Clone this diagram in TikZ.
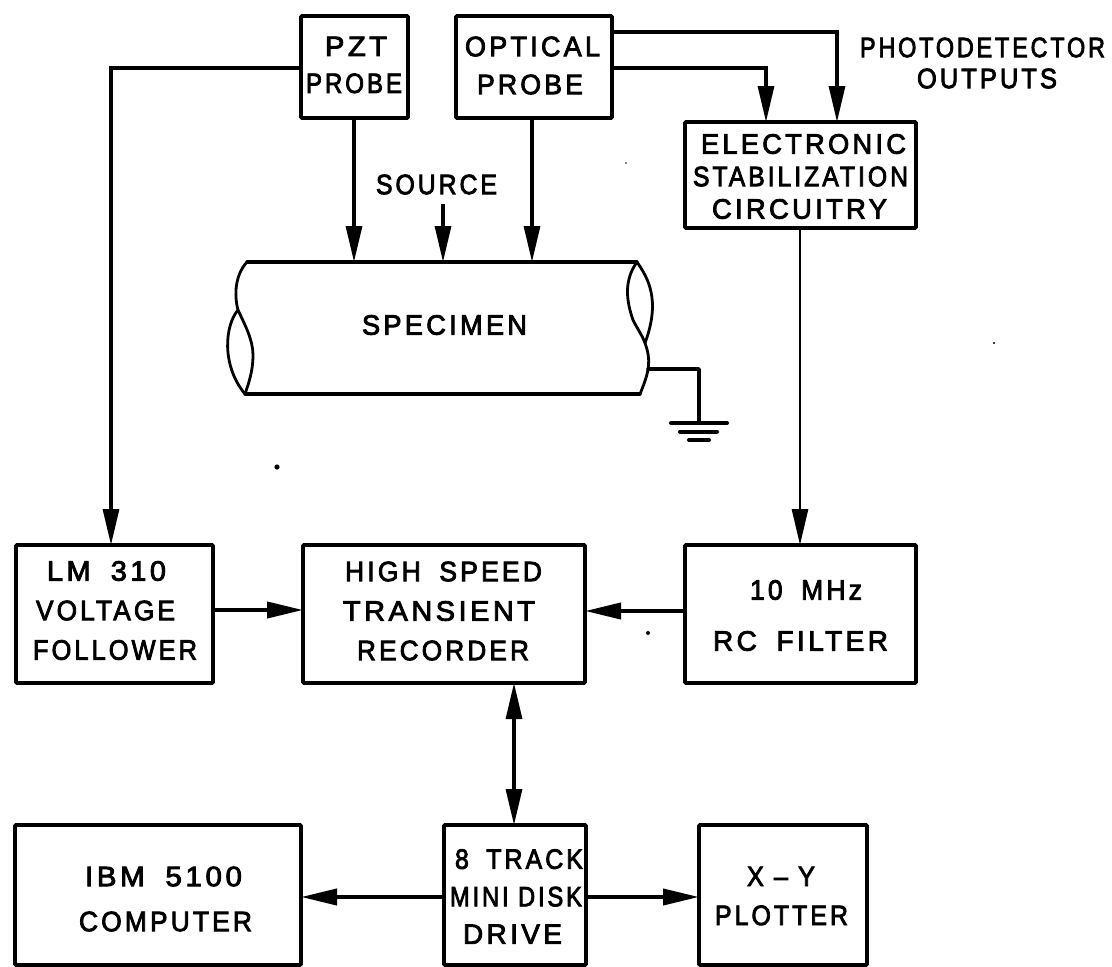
\documentclass[tikz,border=0pt]{standalone}
\usepackage{fontspec}
\setmainfont{Liberation Sans}
\newfontfamily\drawfont[LetterSpace=12,FakeBold=3]{Liberation Sans}
\usetikzlibrary{arrows.meta,calc}
% \tl{width}{offset of the line centre}{text}: one text line fitted to a width
\newcommand{\tl}[3]{\makebox[#1pt][c]{\kern#2pt\resizebox{#1pt}{\height}{#3}\kern-#2pt}}
\newcommand{\ws}{\hspace{0.3em}}
\tikzset{
  blk/.style={draw=black,line width=3.7pt,inner sep=0pt,outer sep=0pt,rounded corners=1pt},
  txt/.style={inner sep=0pt,outer sep=0pt,align=center,text=black,font=\fontsize{28}{#1}\selectfont\drawfont},
  conn/.style={draw=black,line width=3.2pt,-{Triangle[length=36pt,width=16pt]}},
  biconn/.style={draw=black,line width=3.2pt,{Triangle[length=36pt,width=16pt]}-{Triangle[length=36pt,width=16pt]}},
  plainline/.style={draw=black,line width=3.4pt,line join=round,line cap=round},
  lobe/.style={draw=black,line width=2.8pt,line cap=round}
}
\begin{document}
\begin{tikzpicture}[x=1pt,y=-1pt]
\useasboundingbox (0,0) rectangle (1112,967);
\fill[white] (0,0) rectangle (1112,967);
% boxes
\node[blk,minimum width=107pt,minimum height=102pt] (pzt) at (354.5,67) {};
\node[blk,minimum width=156pt,minimum height=102pt] (opt) at (534,67) {};
\node[blk,minimum width=231pt,minimum height=106pt] (esc) at (800.5,175) {};
\node[blk,minimum width=197pt,minimum height=138pt] (lm) at (114.5,614) {};
\node[blk,minimum width=282pt,minimum height=138pt] (hs) at (444,614) {};
\node[blk,minimum width=231pt,minimum height=138pt] (rc) at (800.5,614) {};
\node[blk,minimum width=286pt,minimum height=140pt] (ibm) at (158,895) {};
\node[blk,minimum width=142pt,minimum height=140pt] (disk) at (515,895) {};
\node[blk,minimum width=168pt,minimum height=140pt] (xy) at (783,895) {};
% box texts
\node[txt=37] (pztT) at (354,65) {\tl{62}{2}{PZT}\\\tl{96}{0}{PROBE}};
\node[txt=38] (optT) at (531,65.5) {\tl{135}{1.5}{OPTICAL}\\\tl{106}{-1}{PROBE}};
\node[txt=32.5] (escT) at (801,176.5) {\tl{205}{2.5}{ELECTRONIC}\\\tl{215}{-0.5}{STABILIZATION}\\\tl{175}{-1.5}{CIRCUITRY}};
\node[txt=39.5] (lmT) at (109,610.5) {\tl{119}{-2.5}{LM\ws{} 310}\\\tl{139}{-3.5}{VOLTAGE}\\\tl{164}{6}{FOLLOWER}};
\node[txt=39.5] (hsT) at (441,611) {\tl{197}{2.5}{HIGH\ws{} SPEED}\\\tl{192}{-2}{TRANSIENT}\\\tl{172}{2}{RECORDER}};
\node[txt=51] (rcT) at (802,615.5) {\tl{112}{4}{10\ws{} MHz}\\\tl{175}{-1.5}{RC\ws{} FILTER}};
\node[txt=45] (ibmT) at (165,899) {\tl{157}{-1.5}{IBM\ws{} 5100}\\\tl{173}{0.5}{COMPUTER}};
\node[txt=37.5] (diskT) at (515,896.5) {\tl{128}{4}{8\ws{} TRACK}\\\tl{132}{1}{MINI DISK}\\\tl{99}{-2.5}{DRIVE}};
\node[txt=39] (xyT) at (781.5,896) {\tl{68}{-0.5}{X – Y}\\\tl{133}{0}{PLOTTER}};
% free labels
\node[txt=31] (src) at (436.5,184.5) {\tl{121}{0}{SOURCE}};
\node[txt=31] (spec) at (444.5,325) {\tl{165}{0}{SPECIMEN}};
\node[txt=31] (pd) at (982.5,63) {\tl{245}{0}{PHOTODETECTOR}\\\tl{140}{4.5}{OUTPUTS}};
% specimen
\coordinate (sTL) at (247,262);
\coordinate (sTR) at (637,262);
\coordinate (sBL) at (245,394);
\coordinate (sBR) at (640,394);
\coordinate (sLm) at (238,310);
\coordinate (sRm) at (645,343);
\coordinate (gnd) at (648,369);
\draw[plainline] (sTL) -- (sTR) (sBL) -- (sBR);
\draw[lobe] (sTR) .. controls (648,278) and (661,300) .. (sRm);
\draw[lobe] (sTR) .. controls (624,280) and (626,300) .. (633,320) .. controls (637,328) and (642,335) .. (sRm) .. controls (651,360) and (650,370) .. (sBR);
\draw[lobe] (sTL) .. controls (235,275) and (234,295) .. (sLm) .. controls (245,325) and (253,340) .. (253,355) .. controls (253,372) and (248,385) .. (sBL);
\draw[lobe] (sLm) .. controls (225,325) and (221,365) .. (sBL);
% ground
\coordinate (g1) at (699,369);
\coordinate (g2) at (699,422);
\draw[plainline] (gnd) -- (g1) -- (g2);
\draw[plainline,line width=4pt] (671,423) -- (727,423);
\draw[plainline,line width=4pt] (680,431.5) -- (717,431.5);
\draw[plainline,line width=4pt] (689,440) -- (709,440);
% connectors
\coordinate (t1) at (354,262);
\coordinate (t2) at (443,262);
\coordinate (t3) at (532,262);
\coordinate (srcTail) at (443,204);
\coordinate (c1) at (111,68);
\coordinate (c2) at (766,68);
\coordinate (c3) at (837,32);
\coordinate (c4) at (800,545);
\draw[conn] (pzt.west |- c1) -- (c1) -- (c1 |- lm.north);
\draw[conn] (pzt.south -| t1) -- (t1);
\draw[conn] (srcTail) -- (t2);
\draw[conn] (opt.south -| t3) -- (t3);
\draw[conn] (opt.east |- c2) -- (c2) -- (c2 |- esc.north);
\draw[conn] (opt.east |- c3) -- (c3) -- (c3 |- esc.north);
\draw[conn,line width=2.8pt] (esc.south -| c4) -- (c4);
\coordinate (h1) at (303,610);
\coordinate (h2) at (585,611);
\draw[conn,line width=4pt] (lm.east |- h1) -- (h1);
\draw[conn,line width=4pt] (rc.west |- h2) -- (h2);
\coordinate (b1) at (514,683);
\draw[biconn] (b1) -- (b1 |- disk.north);
\coordinate (d1) at (444,897);
\draw[conn,line width=4pt] (d1) -- (d1 -| ibm.east);
\draw[conn,line width=4pt] (disk.east |- d1) -- (xy.west |- d1);
% specks
\fill (277,467) circle (2.6pt);
\fill (648,633) circle (2pt);
\fill (994,343) circle (1.2pt);
\fill (626,163) circle (0.8pt);
\end{tikzpicture}
\end{document}
